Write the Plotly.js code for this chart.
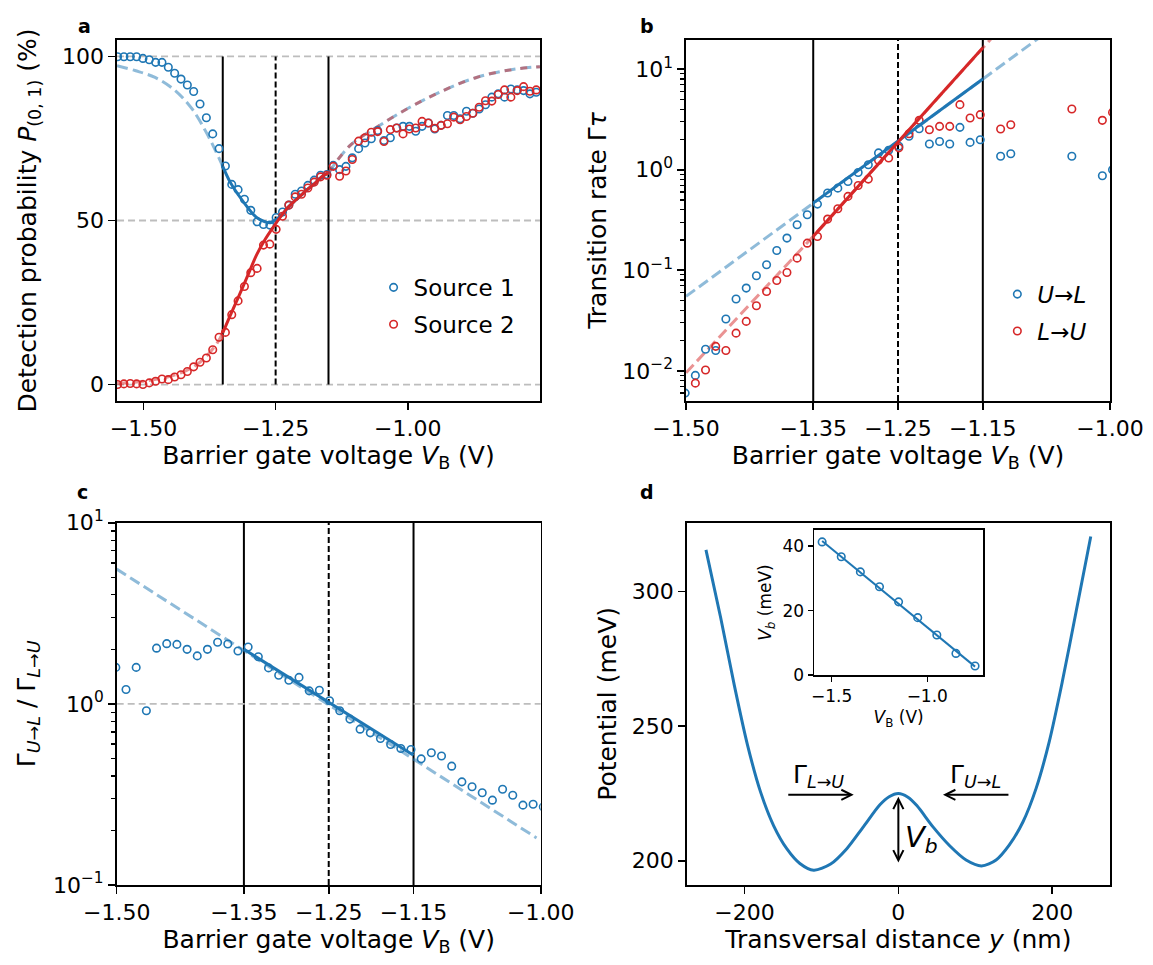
<!DOCTYPE html>
<html>
<head>
<meta charset="utf-8">
<script src="https://cdn.plot.ly/plotly-3.0.1.min.js"></script>
<style>html,body{margin:0;padding:0;background:#fff;}#chart{width:1153px;height:965px;}</style>
</head>
<body>
<div id="chart"></div>
<script>
// ---------------- data ----------------
// barrier gate voltage grid (V)
const vbA = [-1.549,-1.537,-1.525,-1.513,-1.501,-1.489,-1.477,-1.465,-1.453,-1.441,
  -1.429,-1.417,-1.405,-1.393,-1.381,-1.369,-1.357,-1.345,-1.333,-1.321,
  -1.309,-1.297,-1.285,-1.273,-1.261,-1.249,-1.237,-1.225,-1.213,-1.201,
  -1.189,-1.177,-1.165,-1.153,-1.141,-1.129,-1.117,-1.105,-1.093,-1.081,
  -1.069,-1.057,-1.045,-1.033,-1.021,-1.009,-0.997,-0.985,-0.973,-0.961,
  -0.949,-0.937,-0.925,-0.913,-0.901,-0.889,-0.877,-0.865,-0.853,-0.841,
  -0.829,-0.817,-0.805,-0.793,-0.781,-0.769,-0.757];
// panel a: detection probability (%)
const probSource1 = [99.9,99.9,99.9,99.9,99.4,99.0,98.2,98.2,96.7,94.9,
  93.1,91.3,89.3,85.5,81.3,76.4,71.9,66.6,61.0,59.4,
  56.5,53.1,49.6,48.8,48.6,50.9,52.6,54.7,58.0,59.0,
  60.7,62.3,63.8,64.0,66.8,65.5,66.5,69.1,71.9,73.6,
  74.9,77.4,74.4,75.2,78.2,78.7,78.7,77.2,78.7,79.7,
  77.9,79.0,82.0,82.0,81.0,83.3,82.7,84.0,85.3,87.6,
  88.6,87.6,90.1,89.8,89.6,88.6,89.1];
const probSource2 = [0.0,0.2,0.3,0.2,0.0,0.5,1.0,1.7,1.5,2.3,
  3.0,4.0,5.4,6.8,8.1,10.6,14.4,15.9,21.3,25.5,
  29.9,34.1,35.4,42.5,42.8,47.3,51.3,54.7,57.2,58.0,
  59.9,61.7,63.3,63.8,66.5,63.5,65.1,68.6,74.2,75.2,
  76.9,77.1,74.1,77.7,78.2,76.4,77.9,78.2,80.2,79.7,
  78.1,79.0,79.5,81.5,80.7,81.7,82.7,84.5,86.5,86.4,
  88.4,89.8,87.6,89.6,90.8,89.4,89.8];
// panel a model curves
const fitS1WinV = [-1.350,-1.336,-1.320,-1.301,-1.286,-1.270,-1.260,-1.251,-1.238,-1.226,-1.213,-1.200,-1.188,-1.175,-1.163,-1.150];
const fitS1WinP = [66.5,61.7,57.7,53.6,50.9,49.6,49.3,50.1,51.7,54.1,56.1,58.0,59.7,61.4,63.3,64.5];
const fitS2WinV = [-1.350,-1.336,-1.320,-1.301,-1.286,-1.270,-1.254,-1.238,-1.226,-1.213,-1.200,-1.188,-1.175,-1.163,-1.150];
const fitS2WinP = [15.7,21.0,26.8,33.9,39.5,44.2,48.1,51.7,54.1,56.1,58.0,59.7,61.4,63.3,64.5];
const extS1LeftV = [-1.550,-1.516,-1.478,-1.440,-1.408,-1.383,-1.364,-1.350];
const extS1LeftP = [97.2,95.7,93.6,89.6,84.0,77.4,71.4,66.5];
const extS2LeftV = [-1.550,-1.500,-1.450,-1.420,-1.400,-1.380,-1.360,-1.350];
const extS2LeftP = [0.3,1.0,2.5,4.2,6.0,8.8,12.8,15.7];
const extRightV = [-1.150,-1.109,-1.059,-0.996,-0.933,-0.870,-0.807,-0.750];
const extRightP = [64.5,72.9,78.4,84.5,89.6,93.6,95.9,96.9];
// panel b: transition rates (Gamma*tau), on grid vbA[4..46]
const rateUL = [0.0060,0.0090,0.0164,0.0159,0.0327,0.0517,0.0665,0.0882,0.1135,0.157,
  0.209,0.284,0.357,0.455,0.586,0.656,0.765,0.94,1.12,1.47,
  1.56,1.71,2.15,2.56,1.80,1.91,1.80,2.64,1.87,1.99,
  null,1.36,1.44,null,null,null,null,null,1.36,null,null,0.871,1.0];
const rateLU = [null,0.00754,0.0102,0.0175,0.0159,0.0237,0.031,0.0444,0.0615,0.0792,
  0.095,0.132,0.186,0.217,0.323,0.409,0.543,0.698,0.807,1.24,
  1.31,1.65,2.28,3.10,2.50,2.70,2.70,4.44,3.27,3.53,
  null,2.54,2.80,null,null,null,null,null,4.02,null,null,3.10,3.72];
const fitULV = [-1.50,-1.35,-1.00];
const fitULRate = [0.0550,0.4656,67.3];
const fitLUV = [-1.50,-1.35,-1.00];
const fitLURate = [0.00955,0.2173,414];
const winULV = [-1.35,-1.15];
const winULRate = [0.4656,7.98];
const winLUV = [-1.35,-1.15];
const winLURate = [0.2173,16.3];
// panel c: ratio Gamma_UL / Gamma_LU
const rateRatio = [1.59,1.20,1.59,0.916,2.03,2.15,2.13,2.00,1.84,2.00,
  2.19,2.14,1.96,2.06,1.82,1.58,1.44,1.35,1.40,1.18,
  1.19,1.04,0.916,0.824,0.725,0.692,0.644,0.597,0.567,0.560,
  0.497,0.537,0.515,0.453,0.371,0.349,0.323,0.294,0.338,0.313,
  0.276,0.279,0.270];
const ratioFitV = [-1.50,-1.005];
const ratioFit = [5.55,0.182];
const ratioWinV = [-1.35,-1.15];
const ratioWin = [2.0,0.521];
// reference lines
const windowV = [-1.35,-1.25,-1.15];
const windowDash = ['solid','dash','solid'];
const probRefs = [0,50,100];
// panel d: potential profile
const yPos = [-250,-231,-213,-196,-179,-162,-145,-128,-110,-88,-67,-45,-24,-12,0,12,24,45,67,88,108,127,144,162,179,196,213,231,250];
const potential = [315.5,290.5,265,243,225.5,213,204.5,199,196.5,198.8,204.5,212.8,220.8,223.8,225,223.7,220.5,212.6,205.5,200.3,198.1,200.3,205.8,214.5,226.9,244.2,266.5,292.6,320.5];
// inset: barrier height vs gate voltage
const insetVB = [-1.55,-1.45,-1.35,-1.25,-1.15,-1.05,-0.95,-0.85,-0.75];
const insetVb = [41.3,36.7,32.0,27.4,22.7,17.8,12.4,6.7,2.8];
const insetFitV = [-1.55,-0.75];
const insetFit = [41.6,2.6];

// ---------------- styling ----------------
const BLUE = '#1f77b4', RED = '#d62728';
const BLUE_L = 'rgba(31,119,180,0.5)', RED_L = 'rgba(214,39,40,0.5)';
const FONT = 'DejaVu Sans, Liberation Sans, sans-serif';
const TICK = 22, TITLE = 25, INSET = 17;

function mk(x, y, color, xa, ya, extra) {
  return Object.assign({x, y, xaxis: xa, yaxis: ya, mode: 'markers', type: 'scatter',
    marker: {symbol: 'circle-open', size: 7.5, color: color, line: {width: 1.6, color: color}},
    showlegend: false, hoverinfo: 'skip'}, extra || {});
}
function ln(x, y, color, xa, ya, dash, width, shape) {
  return {x, y, xaxis: xa, yaxis: ya, mode: 'lines', type: 'scatter',
    line: {color: color, width: width || 3, dash: dash || 'solid', shape: shape || 'linear'},
    showlegend: false, hoverinfo: 'skip'};
}
const vbR = vbA.slice(4, 47);

const potTrace = ln(yPos, potential, BLUE, 'x4', 'y4', 'solid', 3, 'spline');
potTrace.line.smoothing = 0.8;

const traces = [
  // panel a
  ln(extS1LeftV, extS1LeftP, BLUE_L, 'x', 'y', '11px,5px', 3, 'spline'),
  ln(extS2LeftV, extS2LeftP, RED_L, 'x', 'y', '11px,5px', 3, 'spline'),
  ln(extRightV, extRightP, BLUE_L, 'x', 'y', '11px,5px', 3, 'spline'),
  ln(extRightV, extRightP, RED_L, 'x', 'y', '7px,9px', 3, 'spline'),
  mk(vbA, probSource1, BLUE, 'x', 'y', {name: 'Source 1', showlegend: true, legend: 'legend', legendgroup: 'a1'}),
  mk(vbA, probSource2, RED, 'x', 'y', {name: 'Source 2', showlegend: true, legend: 'legend', legendgroup: 'a2'}),
  ln(fitS1WinV, fitS1WinP, BLUE, 'x', 'y', 'solid', 3, 'spline'),
  ln(fitS2WinV, fitS2WinP, RED, 'x', 'y', 'solid', 3, 'spline'),
  // panel b
  ln(fitULV, fitULRate, BLUE_L, 'x2', 'y2', '11px,5px', 3),
  ln(fitLUV, fitLURate, RED_L, 'x2', 'y2', '11px,5px', 3),
  mk(vbR, rateUL, BLUE, 'x2', 'y2', {name: '<i>U</i>→<i>L</i>', showlegend: true, legend: 'legend2', legendgroup: 'b1'}),
  mk(vbR, rateLU, RED, 'x2', 'y2', {name: '<i>L</i>→<i>U</i>', showlegend: true, legend: 'legend2', legendgroup: 'b2'}),
  ln(winULV, winULRate, BLUE, 'x2', 'y2', 'solid', 3),
  ln(winLUV, winLURate, RED, 'x2', 'y2', 'solid', 3),
  // panel c
  ln([-1.5, -1.0], [1, 1], '#bdbdbd', 'x3', 'y3', '7px,4px', 1.8),
  ln(ratioFitV, ratioFit, BLUE_L, 'x3', 'y3', '11px,5px', 3),
  mk(vbR, rateRatio, BLUE, 'x3', 'y3'),
  ln(ratioWinV, ratioWin, BLUE, 'x3', 'y3', 'solid', 3),
  // panel d
  potTrace,
  // inset
  ln(insetFitV, insetFit, BLUE, 'x5', 'y5', 'solid', 2),
  mk(insetVB, insetVb, BLUE, 'x5', 'y5')
];

const shapes = [];
windowV.forEach((v, i) => {
  const line = {color: 'black', width: 2, dash: windowDash[i] === 'dash' ? '6px,3px' : 'solid'};
  shapes.push({type: 'line', xref: 'x', yref: 'y', x0: v, x1: v, y0: probRefs[0], y1: probRefs[2], line, layer: 'below'});
  shapes.push({type: 'line', xref: 'x2', yref: 'y2 domain', x0: v, x1: v, y0: 0, y1: 1, line, layer: 'below'});
  shapes.push({type: 'line', xref: 'x3', yref: 'y3 domain', x0: v, x1: v, y0: 0, y1: 1, line, layer: 'below'});
});
probRefs.forEach(p => shapes.push({type: 'line', xref: 'x domain', yref: 'y', x0: 0, x1: 1, y0: p, y1: p,
  line: {color: '#bdbdbd', width: 1.8, dash: '7px,4px'}, layer: 'below'}));

function axis(extra, fsize) {
  return Object.assign({showline: true, linecolor: 'black', linewidth: 1.6, mirror: true,
    ticks: 'outside', ticklen: 7, tickwidth: 1.6, tickcolor: 'black', showgrid: false, zeroline: false,
    tickfont: {family: FONT, size: fsize || TICK, color: 'black'}, fixedrange: true}, extra);
}
function ttl(text, standoff, size) {
  return {text: text, standoff: standoff, font: {family: FONT, size: size || TITLE, color: 'black'}};
}
const minorLogB = [0.006,0.007,0.008,0.009,0.02,0.03,0.04,0.05,0.06,0.07,0.08,0.09,
  0.2,0.3,0.4,0.5,0.6,0.7,0.8,0.9,2,3,4,5,6,7,8,9,20];
const minorLogC = [0.2,0.3,0.4,0.5,0.6,0.7,0.8,0.9,2,3,4,5,6,7,8,9];
const minorStyle = {ticks: 'outside', ticklen: 4, tickwidth: 1.2, tickcolor: 'black', showgrid: false};
const voltTicks = [-1.5, -1.35, -1.25, -1.15, -1.0];
const xTitle = 'Barrier gate voltage <i>V</i><sub>B</sub> (V)';

const layout = {
  width: 1153, height: 965,
  margin: {l: 0, r: 0, t: 0, b: 0},
  paper_bgcolor: 'white', plot_bgcolor: 'white',
  font: {family: FONT, color: 'black'},
  xaxis: axis({domain: [0.1015, 0.4683], anchor: 'y', range: [-1.55, -0.75], tickvals: [-1.5, -1.25, -1.0], tickformat: '.2f',
    title: ttl(xTitle, 6)}),
  yaxis: axis({domain: [0.5845, 0.9585], anchor: 'x', range: [-5, 105], tickvals: [0, 50, 100],
    title: ttl('Detection probability <i>P</i><sub>(0, 1)</sub> (%)', 18)}),
  xaxis2: axis({domain: [0.5950, 0.9627], anchor: 'y2', range: [-1.5, -1.0], tickvals: voltTicks, tickformat: '.2f',
    title: ttl(xTitle, 6)}),
  yaxis2: axis({domain: [0.5845, 0.9585], anchor: 'x2', type: 'log', range: [-2.3, 1.29],
    tickvals: [0.01, 0.1, 1, 10], ticktext: ['10<sup>−2</sup>', '10<sup>−1</sup>', '10<sup>0</sup>', '10<sup>1</sup>'],
    minor: Object.assign({tickvals: minorLogB}, minorStyle),
    title: ttl('Transition rate Γ<i>τ</i>', 8)}),
  xaxis3: axis({domain: [0.1012, 0.4690], anchor: 'y3', range: [-1.5, -1.0], tickvals: voltTicks, tickformat: '.2f',
    title: ttl(xTitle, 6)}),
  yaxis3: axis({domain: [0.0829, 0.4583], anchor: 'x3', type: 'log', range: [-1, 1],
    tickvals: [0.1, 1, 10], ticktext: ['10<sup>−1</sup>', '10<sup>0</sup>', '10<sup>1</sup>'],
    minor: Object.assign({tickvals: minorLogC}, minorStyle),
    title: ttl('Γ<sub><i>U</i>→<i>L</i></sub> / Γ<sub><i>L</i>→<i>U</i></sub>', 10)}),
  xaxis4: axis({domain: [0.5956, 0.9627], anchor: 'y4', range: [-275, 275], tickvals: [-200, 0, 200],
    title: ttl('Transversal distance <i>y</i> (nm)', 6)}),
  yaxis4: axis({domain: [0.0829, 0.4583], anchor: 'x4', range: [191, 325.6], tickvals: [200, 250, 300],
    title: ttl('Potential (meV)', 8)}),
  xaxis5: axis({domain: [0.7060, 0.8528], anchor: 'y5', range: [-1.5925, -0.707], tickvals: [-1.5, -1.0], tickformat: '.1f',
    ticklen: 5, tickwidth: 1.3, linewidth: 1.5,
    title: ttl('<i>V</i><sub>B</sub> (V)', 6, INSET)}, INSET),
  yaxis5: axis({domain: [0.3005, 0.4508], anchor: 'x5', range: [0, 45], tickvals: [0, 20, 40],
    ticklen: 5, tickwidth: 1.3, linewidth: 1.5,
    title: ttl('<i>V</i><sub><i>b</i></sub> (meV)', 6, INSET)}, INSET),
  legend: {x: 0.324, y: 0.683, xanchor: 'left', yanchor: 'middle', bgcolor: 'rgba(0,0,0,0)',
    font: {family: FONT, size: 23, color: 'black'}, tracegroupgap: 4},
  legend2: {x: 0.865, y: 0.676, xanchor: 'left', yanchor: 'middle', bgcolor: 'rgba(0,0,0,0)',
    font: {family: FONT, size: 23, color: 'black'}, tracegroupgap: 4},
  shapes: shapes,
  annotations: [
    {text: '<b>a</b>', xref: 'paper', yref: 'paper', x: 0.0659, y: 0.9865, showarrow: false, font: {family: FONT, size: 19, color: 'black'}},
    {text: '<b>b</b>', xref: 'paper', yref: 'paper', x: 0.5612, y: 0.9865, showarrow: false, font: {family: FONT, size: 19, color: 'black'}},
    {text: '<b>c</b>', xref: 'paper', yref: 'paper', x: 0.0650, y: 0.4900, showarrow: false, font: {family: FONT, size: 19, color: 'black'}},
    {text: '<b>d</b>', xref: 'paper', yref: 'paper', x: 0.5612, y: 0.4900, showarrow: false, font: {family: FONT, size: 19, color: 'black'}},
    {text: 'Γ<sub><i>L</i>→<i>U</i></sub>', xref: 'x4', yref: 'y4', x: -104, y: 231.5, showarrow: false, font: {family: FONT, size: 25, color: 'black'}},
    {text: 'Γ<sub><i>U</i>→<i>L</i></sub>', xref: 'x4', yref: 'y4', x: 100, y: 231.5, showarrow: false, font: {family: FONT, size: 25, color: 'black'}},
    {text: '<i>V</i><sub><i>b</i></sub>', xref: 'x4', yref: 'y4', x: 30, y: 208, showarrow: false, font: {family: FONT, size: 29, color: 'black'}},
    {text: '', xref: 'x4', yref: 'y4', x: -58, y: 224.5, ax: -145, ay: 224.5, axref: 'x4', ayref: 'y4',
      showarrow: true, arrowhead: 5, arrowsize: 1, arrowwidth: 2, arrowcolor: 'black'},
    {text: '', xref: 'x4', yref: 'y4', x: 58, y: 224.5, ax: 145, ay: 224.5, axref: 'x4', ayref: 'y4',
      showarrow: true, arrowhead: 5, arrowsize: 1, arrowwidth: 2, arrowcolor: 'black'},
    {text: '', xref: 'x4', yref: 'y4', x: 0, y: 223.8, ax: 0, ay: 198.8, axref: 'x4', ayref: 'y4',
      showarrow: true, arrowhead: 5, startarrowhead: 5, arrowside: 'end+start', arrowsize: 1, startarrowsize: 1, arrowwidth: 2, arrowcolor: 'black'}
  ]
};

Plotly.newPlot('chart', traces, layout, {displayModeBar: false, staticPlot: true});
</script>
</body>
</html>
